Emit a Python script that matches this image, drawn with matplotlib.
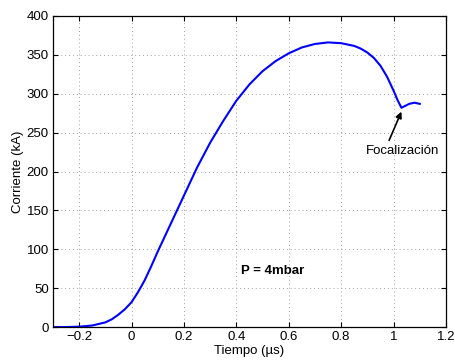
import matplotlib
matplotlib.use('Agg')
import matplotlib.pyplot as plt

# Corriente vs tiempo
tiempo = [-0.3, -0.25, -0.2, -0.15, -0.1, -0.075, -0.05, -0.025, 0.0, 0.025, 0.05, 0.075,
          0.1, 0.15, 0.2, 0.25, 0.3, 0.35, 0.4, 0.45, 0.5, 0.55, 0.6, 0.65,
          0.7, 0.75, 0.8, 0.85, 0.875, 0.9, 0.925, 0.95, 0.975, 1.0, 1.015,
          1.03, 1.045, 1.06, 1.08, 1.1]
corriente = [0, 0, 0.5, 2, 6, 10, 16, 23, 32, 45, 60, 78,
             97, 133, 169, 205, 237, 265, 291, 312, 329, 342, 352, 359.5,
             364, 366, 365, 361.5, 358, 353, 346, 336, 322, 304, 292,
             282, 284.5, 287, 288.5, 287]

xticks = [-0.2, 0, 0.2, 0.4, 0.6, 0.8, 1, 1.2]
xticklabels = ['\u22120.2', '0', '0.2', '0.4', '0.6', '0.8', '1', '1.2']
yticks = [0, 50, 100, 150, 200, 250, 300, 350, 400]

plt.rcParams['font.family'] = ['Liberation Sans', 'DejaVu Sans']
plt.rcParams['font.size'] = 9.5

fig = plt.figure(figsize=(4.56, 3.63), dpi=100)
ax = fig.add_axes([0.116, 0.099, 0.862, 0.857])

ax.plot(tiempo, corriente, color='#0000ff', linewidth=1.5)

ax.set_xlim(-0.3, 1.2)
ax.set_ylim(0, 400)
ax.set_xticks(xticks)
ax.set_xticklabels(xticklabels)
ax.set_yticks(yticks)
ax.tick_params(direction='in', length=3.5, width=0.8, top=True, right=True, pad=3)
ax.grid(True, linestyle=(0, (1, 3)), color='#a0a0a0', linewidth=0.7)
for s in ax.spines.values():
    s.set_linewidth(0.9)

ax.set_xlabel('Tiempo (\u00b5s)', labelpad=1)
ax.set_ylabel('Corriente (kA)', labelpad=2)

ax.text(0.418, 72, 'P = 4mbar', fontweight='bold', va='center', ha='left')
ax.text(0.895, 227, 'Focalizaci\u00f3n', ha='left', va='center')
ax.annotate('', xy=(1.03, 277), xytext=(0.983, 240),
            arrowprops=dict(arrowstyle='-|>', color='black', lw=1.2,
                            mutation_scale=9, shrinkA=0, shrinkB=0))

fig.savefig('out.png', dpi=100)
